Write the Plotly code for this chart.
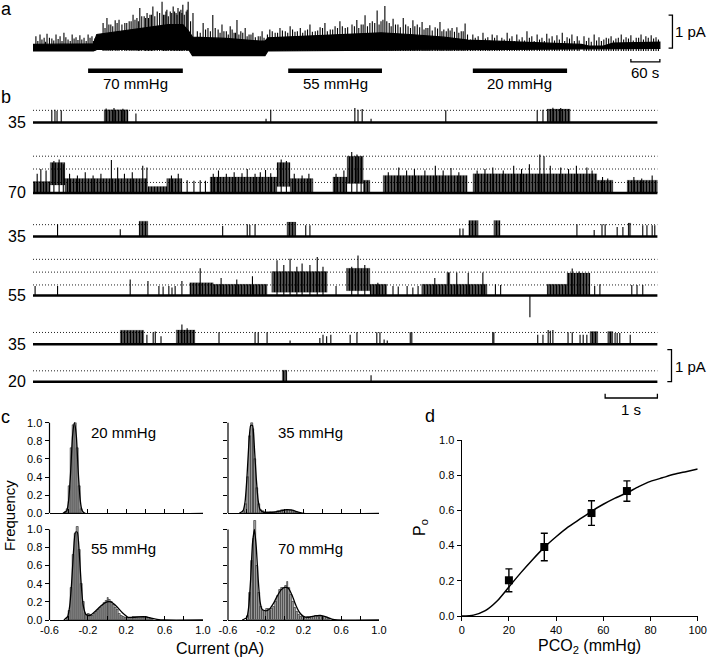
import plotly.graph_objects as go

W, H = 709, 660
FONT = "Arial, 'Liberation Sans', sans-serif"

# ======================= DATA =======================
# ---- panel a: whole recording (time s, current pA) ----
a_t  = [0, 125, 132, 180, 230, 280, 310, 322, 330, 400, 470, 480, 486, 560, 650, 720, 780, 850, 900, 1000, 1100, 1135, 1150, 1180, 1200, 1297]
a_lo = [0, 0, 0.05, 0.05, 0.05, 0.05, 0.05, 0.05, -0.14, -0.14, -0.14, -0.14, 0.0, 0.0, 0.02, 0.03, 0.04, 0.05, 0.05, 0.06, 0.07, 0.07, 0.06, 0.07, 0.07, 0.08]
a_hi = [0.2, 0.22, 0.5, 0.6, 0.7, 0.8, 0.8, 0.6, 0.42, 0.38, 0.3, 0.3, 0.4, 0.45, 0.52, 0.55, 0.5, 0.42, 0.33, 0.28, 0.24, 0.2, 0.15, 0.15, 0.24, 0.27]
a_spike_t = [6, 14.5, 23, 29, 39, 47.6, 56, 64, 72.5, 81, 89, 97, 105.6, 114, 122, 128,
             145, 153, 161, 170, 178, 190, 199, 207, 215, 221, 230, 236, 242, 248, 257, 267, 273, 277, 284, 290, 296, 300, 306, 310, 317, 321, 331,
             352, 362, 372, 383, 391, 400, 408, 416, 422, 430, 439, 447, 455, 466, 474,
             490, 501, 511, 522, 532, 542, 553, 563, 573, 584, 594, 604, 615, 625, 635, 646,
             670, 679, 687, 697, 712, 720, 728, 737, 745, 755, 766, 776, 786, 795, 805, 813, 821, 832, 842, 850, 859, 867, 877, 886, 894,
             910, 921, 931, 941, 950, 960, 970, 981, 991, 1001, 1012, 1022, 1032, 1043, 1053, 1063, 1074, 1084, 1095, 1105, 1115, 1126,
             1140, 1150, 1161, 1171,
             1186, 1196, 1206, 1217, 1227, 1237, 1248, 1258, 1268, 1279, 1289,
             10, 18.5, 26, 34, 43, 52, 60, 68, 77, 85, 93, 101, 110, 118, 125,
             149, 157, 165, 174, 184, 194, 203, 211, 218, 225, 233, 239, 245, 252, 262, 270, 275, 280, 287, 293, 298, 303, 308, 313, 319, 326,
             340, 346, 357, 367, 377, 387, 395, 404, 412, 419, 426, 434, 443, 451, 460, 470, 478,
             485, 495, 506, 516, 527, 537, 547, 558, 568, 578, 589, 599, 609, 620, 630, 640, 651, 660,
             665, 674, 683, 692, 702, 707, 716, 724, 732, 741, 750, 760, 771, 781, 790, 800, 809, 817, 826, 837, 846, 855, 863, 872, 881, 890, 899,
             905, 915, 926, 936, 945, 955, 965, 975, 986, 996, 1006, 1017, 1027, 1037, 1048, 1058, 1068, 1079, 1089, 1100, 1110, 1120, 1130,
             1145, 1155, 1166, 1176, 1181, 1191, 1201, 1211, 1222, 1232, 1242, 1253, 1263, 1273, 1284, 1294]
a_spike_pa = [0.45, 0.5, 0.4, 0.52, 0.38, 0.5, 0.45, 0.55, 0.35, 0.5, 0.42, 0.48, 0.4, 0.5, 0.45, 0.38,
              0.85, 1.0, 0.8, 0.93, 0.95, 0.85, 0.9, 1.1, 1.0, 1.3, 1.05, 1.15, 1.1, 1.35, 1.2, 1.5, 1.1, 1.25, 1.2, 1.35, 1.15, 1.3, 1.25, 1.4, 1.2, 1.5, 1.15,
              0.85, 0.7, 1.09, 0.65, 0.8, 0.6, 0.75, 0.55, 0.94, 0.6, 0.7, 0.5, 0.55, 0.45, 0.6,
              0.65, 0.55, 0.7, 0.6, 0.75, 0.58, 0.7, 0.62, 0.8, 0.6, 0.72, 0.85, 0.65, 0.75, 0.9, 0.7,
              0.94, 0.8, 1.08, 0.85, 1.23, 0.9, 1.36, 0.85, 0.98, 0.8, 1.0, 0.75, 0.93, 0.8, 0.88, 0.7, 0.78, 0.72, 0.88, 0.65, 0.68, 0.7, 0.72, 0.6, 0.83,
              0.5, 0.45, 0.55, 0.42, 0.5, 0.48, 0.4, 0.55, 0.45, 0.5, 0.42, 0.6, 0.45, 0.5, 0.4, 0.52, 0.45, 0.48, 0.55, 0.42, 0.5, 0.45,
              0.45, 0.4, 0.5, 0.42,
              0.4, 0.45, 0.38, 0.5, 0.42, 0.48, 0.4, 0.5, 0.45, 0.48, 0.42,
              0.3, 0.35, 0.28, 0.4, 0.32, 0.36, 0.3, 0.42, 0.3, 0.38, 0.33, 0.35, 0.3, 0.4, 0.3,
              0.7, 0.8, 0.75, 0.85, 0.8, 0.85, 0.9, 0.95, 0.9, 1.05, 1.0, 1.0, 1.1, 1.05, 1.15, 1.1, 1.2, 1.05, 1.15, 1.2, 1.1, 1.2, 1.15, 1.1, 1.25, 0.9,
              0.6, 0.55, 0.65, 0.6, 0.7, 0.55, 0.6, 0.5, 0.65, 0.55, 0.5, 0.55, 0.45, 0.5, 0.42, 0.45, 0.4,
              0.5, 0.6, 0.55, 0.62, 0.55, 0.65, 0.6, 0.55, 0.65, 0.58, 0.62, 0.7, 0.6, 0.65, 0.7, 0.75, 0.72, 0.8,
              0.75, 0.7, 0.8, 0.75, 0.9, 0.85, 0.8, 0.95, 0.9, 0.75, 0.8, 0.72, 0.8, 0.7, 0.75, 0.72, 0.65, 0.7, 0.62, 0.68, 0.6, 0.6, 0.62, 0.58, 0.55, 0.6, 0.5,
              0.35, 0.4, 0.3, 0.38, 0.32, 0.4, 0.3, 0.35, 0.38, 0.3, 0.35, 0.32, 0.4, 0.3, 0.35, 0.3, 0.38, 0.32, 0.35, 0.3, 0.38, 0.3, 0.32,
              0.3, 0.28, 0.32, 0.3, 0.35, 0.38, 0.32, 0.4, 0.35, 0.38, 0.32, 0.4, 0.35, 0.4, 0.38, 0.35]
assert len(a_spike_t) == len(a_spike_pa)
perf_labels = ["70 mmHg", "55 mmHg", "20 mmHg"]
perf_start = [114, 528, 910]
perf_end = [310, 722, 1105]
a_trace_end = 1297

# ---- panel b: six 12-s segments (time s, current pA) ----
b_labels = ["35", "70", "35", "55", "35", "20"]
b_levels = [[0.38], [0.33, 0.75, 1.15], [0.37], [0.33, 0.73, 1.13], [0.37], [0.34]]
b_blocks = [
    [(1.36, 1.82, 0, 0.40), (9.84, 10.28, 0, 0.42)],
    [(0.00, 0.33, 0, 0.36), (0.33, 0.61, 0.25, 0.95), (0.61, 2.18, 0, 0.45), (2.20, 2.56, 0, 0.2),
     (2.56, 2.85, 0, 0.45), (3.39, 4.67, 0, 0.5), (4.67, 4.92, 0.2, 0.95), (4.92, 5.36, 0, 0.45),
     (5.74, 6.01, 0, 0.5), (6.01, 6.32, 0.3, 1.15), (6.32, 6.45, 0, 0.4), (6.70, 8.31, 0, 0.55),
     (8.42, 9.65, 0, 0.6), (9.65, 10.79, 0, 0.6), (10.79, 11.10, 0, 0.4), (11.37, 11.95, 0, 0.4)],
    [(2.03, 2.20, 0, 0.48), (4.86, 5.03, 0, 0.45), (8.34, 8.52, 0, 0.5), (8.82, 8.94, 0, 0.5), (11.39, 11.44, 0, 0.42)],
    [(3.00, 3.45, 0, 0.4), (3.45, 4.48, 0, 0.35), (4.57, 5.63, 0.1, 0.75), (6.00, 6.45, 0.15, 0.85),
     (6.45, 6.77, 0, 0.35), (7.44, 7.92, 0, 0.35), (7.92, 7.98, 0, 0.72), (7.98, 8.69, 0, 0.35),
     (9.84, 10.22, 0, 0.35), (10.22, 10.66, 0, 0.7)],
    [(1.67, 2.12, 0, 0.44), (2.74, 3.10, 0, 0.45), (10.66, 10.81, 0, 0.4), (11.0, 11.1, 0, 0.4)],
    [(4.77, 4.86, 0, 0.36)],
]
b_spikes = [
    [(0.36, 0.38), (0.42, 0.40), (0.46, 0.36), (0.54, 0.38), (1.40, 0.44), (1.55, 0.45), (1.72, 0.43), (1.97, 0.28),
     (4.46, 0.12), (4.55, 0.40), (6.16, 0.45), (6.22, 0.40), (6.30, 0.42), (6.47, 0.12), (7.90, 0.38), (9.65, 0.38),
     (9.76, 0.40), (9.95, 0.46), (10.1, 0.45)],
    [(0.08, 0.6), (0.15, 0.75), (0.25, 0.7), (0.4, 1.0), (0.5, 1.05), (0.58, 0.9), (0.7, 0.6), (0.85, 0.55), (1.0, 0.65),
     (1.15, 0.55), (1.3, 0.6), (1.5, 1.03), (1.62, 0.8), (1.75, 0.6), (1.9, 0.65), (2.1, 0.85), (2.18, 0.8), (2.65, 0.55),
     (2.78, 0.6), (2.95, 0.4), (3.08, 0.38), (3.2, 0.4), (3.3, 0.38), (3.45, 0.6), (3.55, 0.7), (3.7, 0.6), (3.85, 0.65),
     (4.0, 0.62), (4.1, 0.75), (4.25, 0.6), (4.35, 0.65), (4.45, 0.72), (4.55, 0.62), (4.75, 1.05), (4.85, 1.0), (5.0, 0.6),
     (5.15, 0.55), (5.28, 0.6), (5.8, 0.6), (5.95, 0.7), (6.1, 1.28), (6.2, 1.2), (6.28, 1.1), (6.8, 0.65), (7.0, 0.8),
     (7.15, 0.7), (7.3, 0.75), (7.5, 0.7), (7.7, 0.85), (7.85, 0.7), (8.0, 0.78), (8.15, 0.65), (8.5, 0.7), (8.65, 0.75),
     (8.8, 0.8), (9.0, 0.7), (9.2, 0.85), (9.35, 0.75), (9.5, 0.9), (9.7, 1.2), (9.78, 1.15), (9.9, 0.85), (10.1, 0.8),
     (10.25, 0.75), (10.4, 0.85), (10.6, 0.8), (10.7, 0.7), (10.9, 0.5), (11.0, 0.45), (11.5, 0.5), (11.65, 0.45), (11.85, 0.55)],
    [(0.47, 0.38), (1.67, 0.23), (3.63, 0.33), (4.10, 0.38), (4.15, 0.36), (4.25, 0.38), (5.22, 0.35), (5.30, 0.35),
     (8.17, 0.25), (8.23, 0.25), (10.41, 0.38), (10.74, 0.2), (10.89, 0.38), (10.95, 0.38), (11.18, 0.3), (11.29, 0.3),
     (11.67, 0.35), (11.75, 0.35), (11.85, 0.35), (11.9, 0.35)],
    [(0.04, 0.3), (0.47, 0.3), (1.86, 0.5), (2.2, 0.45), (2.41, 0.3), (2.49, 0.28), (2.6, 0.3), (2.66, 0.25), (2.72, 0.3),
     (2.85, 0.45), (3.2, 0.85), (3.6, 0.55), (3.9, 0.5), (4.2, 0.6), (4.67, 1.1), (4.8, 0.95), (4.92, 1.15), (5.05, 0.9),
     (5.15, 1.0), (5.3, 0.95), (5.44, 1.2), (5.55, 0.9), (5.8, 0.3), (6.1, 0.9), (6.22, 1.25), (6.35, 0.95), (6.6, 0.4),
     (6.89, 0.3), (6.99, 0.28), (7.16, 0.3), (7.27, 0.25), (7.37, 0.3), (7.69, 0.55), (8.11, 0.72), (8.33, 0.7), (8.61, 0.72),
     (8.85, 0.35), (8.95, 0.33), (9.51, -0.68), (10.32, 0.84), (10.45, 0.75), (10.75, 0.3), (10.85, 0.35), (11.46, 0.33),
     (11.56, 0.33), (11.67, 0.33)],
    [(2.18, 0.3), (2.3, 0.38), (2.34, 0.4), (2.45, 0.25), (2.85, 0.62), (2.95, 0.5), (3.56, 0.38), (4.25, 0.38), (4.31, 0.38),
     (4.48, 0.38), (4.92, 0.12), (5.49, 0.2), (5.55, 0.3), (5.62, 0.25), (5.7, 0.3), (6.07, 0.3), (6.2, 0.38), (6.58, 0.38),
     (6.64, 0.38), (6.72, 0.15), (6.78, 0.12), (7.22, 0.38), (7.25, 0.38), (8.8, 0.38), (8.82, 0.38), (9.66, 0.3), (9.76, 0.3),
     (9.86, 0.45), (9.9, 0.42), (9.95, 0.45), (10.24, 0.38), (10.32, 0.38), (10.47, 0.3), (10.53, 0.3), (10.6, 0.3),
     (11.14, 0.35), (11.18, 0.35), (11.23, 0.35), (11.43, 0.3)],
    [(6.47, 0.2)],
]
b_trace_end = 11.95

# ---- panel c: amplitude histograms ----
hist_titles = ["20 mmHg", "35 mmHg", "55 mmHg", "70 mmHg"]
h20_x = [-0.43, -0.41, -0.39, -0.37, -0.35, -0.33, -0.31, -0.29, -0.27]
h20_y = [0.01, 0.05, 0.3, 0.72, 0.97, 1.0, 0.72, 0.3, 0.05]
f20_x = [-0.46, -0.42, -0.40, -0.38, -0.36, -0.34, -0.32, -0.30, -0.28, -0.26, -0.23, 1.0]
f20_y = [0, 0.03, 0.15, 0.45, 0.85, 1.0, 0.85, 0.45, 0.15, 0.03, 0, 0]

h35_x = [-0.43, -0.41, -0.39, -0.37, -0.35, -0.33, -0.31, -0.29, -0.27, -0.25, -0.23, -0.21, -0.19, -0.17, -0.15,
         -0.13, -0.11, -0.09, -0.07, -0.05, -0.03, -0.01, 0.01, 0.03, 0.05, 0.07, 0.09, 0.11, 0.13]
h35_y = [0.02, 0.1, 0.4, 0.85, 1.0, 0.93, 0.6, 0.28, 0.1, 0.04, 0.02, 0.01, 0.01, 0.01, 0.01,
         0.01, 0.01, 0.01, 0.02, 0.02, 0.03, 0.04, 0.04, 0.04, 0.03, 0.03, 0.02, 0.01, 0.01]
f35_x = [-0.48, -0.44, -0.42, -0.40, -0.38, -0.36, -0.34, -0.32, -0.30, -0.28, -0.26, -0.22, -0.15, -0.05, 0.02, 0.08, 0.14, 0.2, 1.0]
f35_y = [0, 0.03, 0.12, 0.38, 0.75, 0.97, 0.97, 0.72, 0.38, 0.14, 0.04, 0.01, 0.01, 0.025, 0.04, 0.035, 0.015, 0, 0]

h55_x = [-0.41, -0.39, -0.37, -0.35, -0.33, -0.31, -0.29, -0.27, -0.25, -0.23, -0.21, -0.19, -0.17, -0.15, -0.13,
         -0.11, -0.09, -0.07, -0.05, -0.03, -0.01, 0.01, 0.03, 0.05, 0.07, 0.09, 0.11, 0.13, 0.15, 0.17,
         0.19, 0.21, 0.23, 0.25, 0.27, 0.29, 0.31, 0.33, 0.35, 0.37, 0.39, 0.41, 0.43, 0.45, 0.47]
h55_y = [0.02, 0.1, 0.35, 0.72, 0.95, 1.03, 0.78, 0.4, 0.2, 0.08, 0.06, 0.07, 0.06, 0.05, 0.07,
         0.09, 0.11, 0.13, 0.16, 0.19, 0.21, 0.24, 0.22, 0.2, 0.17, 0.14, 0.11, 0.07, 0.05, 0.03,
         0.02, 0.02, 0.02, 0.02, 0.03, 0.03, 0.03, 0.04, 0.04, 0.04, 0.03, 0.03, 0.02, 0.01, 0.01]
f55_x = [-0.45, -0.41, -0.39, -0.37, -0.35, -0.33, -0.31, -0.29, -0.27, -0.25, -0.22, -0.18, -0.12, -0.06, 0.0, 0.04,
         0.1, 0.16, 0.22, 0.28, 0.34, 0.40, 0.46, 0.52, 0.6, 1.0]
f55_y = [0, 0.04, 0.15, 0.4, 0.75, 0.97, 0.97, 0.75, 0.4, 0.17, 0.06, 0.05, 0.1, 0.16, 0.2, 0.2,
         0.15, 0.08, 0.03, 0.03, 0.035, 0.035, 0.02, 0.008, 0, 0]

h70_x = [-0.39, -0.37, -0.35, -0.33, -0.31, -0.29, -0.27, -0.25, -0.23, -0.21, -0.19, -0.17, -0.15, -0.13, -0.11,
         -0.09, -0.07, -0.05, -0.03, -0.01, 0.01, 0.03, 0.05, 0.07, 0.09, 0.11, 0.13, 0.15, 0.17, 0.19,
         0.21, 0.23, 0.25, 0.27, 0.29, 0.31, 0.33, 0.35, 0.37, 0.39, 0.41, 0.43, 0.45, 0.47]
h70_y = [0.05, 0.3, 0.65, 0.9, 1.1, 0.6, 0.3, 0.15, 0.1, 0.1, 0.12, 0.12, 0.1, 0.12, 0.15,
         0.2, 0.27, 0.33, 0.36, 0.35, 0.38, 0.42, 0.36, 0.28, 0.2, 0.14, 0.09, 0.06, 0.04, 0.03,
         0.02, 0.02, 0.03, 0.03, 0.04, 0.04, 0.05, 0.04, 0.05, 0.04, 0.04, 0.03, 0.02, 0.01]
f70_x = [-0.45, -0.40, -0.38, -0.36, -0.34, -0.32, -0.30, -0.28, -0.26, -0.24, -0.2, -0.16, -0.12, -0.08, -0.04, 0.0,
         0.04, 0.08, 0.12, 0.16, 0.2, 0.26, 0.32, 0.38, 0.44, 0.5, 0.56, 1.0]
f70_y = [0, 0.03, 0.15, 0.45, 0.85, 1.0, 0.8, 0.45, 0.2, 0.12, 0.1, 0.12, 0.18, 0.26, 0.33, 0.36,
         0.35, 0.27, 0.16, 0.08, 0.04, 0.03, 0.045, 0.05, 0.035, 0.01, 0, 0]
for _x, _y in [(h20_x, h20_y), (h35_x, h35_y), (h55_x, h55_y), (h70_x, h70_y), (f20_x, f20_y), (f35_x, f35_y), (f55_x, f55_y), (f70_x, f70_y)]:
    assert len(_x) == len(_y)
hist_major_ticks = [-0.6, -0.2, 0.2, 0.6, 1.0]
hist_major_text = ["-0.6", "-0.2", "0.2", "0.6", "1.0"]
hist_minor_ticks = [-0.4, 0.0, 0.4, 0.8]
freq_ticks = [0.0, 0.2, 0.4, 0.6, 0.8, 1.0]

# ---- panel d: Po vs PCO2 ----
pco2 = [20, 35, 55, 70]
po = [0.203, 0.392, 0.585, 0.71]
po_err = [0.065, 0.078, 0.07, 0.058]
fit_x = [0, 5, 10, 15, 20, 25, 30, 35, 40, 45, 50, 55, 60, 65, 70, 75, 80, 85, 90, 95, 100]
fit_y = [0, 0.005, 0.03, 0.085, 0.165, 0.245, 0.32, 0.39, 0.45, 0.505, 0.55, 0.595, 0.635, 0.67, 0.70, 0.735, 0.765, 0.785, 0.805, 0.82, 0.835]

# ======================= FIGURE =======================
fig = go.Figure()
layout = {}
annotations = []
shapes = []
BLACK = "black"


def axis_pair(n, x0px, x1px, ybot_px, ytop_px, xr, yr, xopts=None, yopts=None):
    s = "" if n == 1 else str(n)
    base = dict(showgrid=False, zeroline=False, showline=False, showticklabels=False,
                ticks="", fixedrange=True)
    xa = dict(base, domain=[x0px / W, x1px / W], range=xr, anchor="y" + s)
    ya = dict(base, domain=[1 - ybot_px / H, 1 - ytop_px / H], range=yr, anchor="x" + s)
    if xopts:
        xa.update(xopts)
    if yopts:
        ya.update(yopts)
    layout["xaxis" + s] = xa
    layout["yaxis" + s] = ya
    return "x" + s, "y" + s


def text(x, y, t, size=15, xref="paper", yref="paper", xanchor="center", yanchor="middle", **kw):
    d = dict(x=x, y=y, text=t, xref=xref, yref=yref, showarrow=False, xanchor=xanchor, yanchor=yanchor,
             font=dict(family=FONT, size=size, color=BLACK), borderpad=0)
    d.update(kw)
    annotations.append(d)


def ptext(px, py, t, size=15, **kw):
    text(px / W, 1 - py / H, t, size=size, **kw)


def spikes_xy(ts, ps, base=0.0):
    xs, ys = [], []
    for t, p in zip(ts, ps):
        xs += [t, t, None]
        ys += [base, p, None]
    return xs, ys


def blocks_xy(blocks):
    xs, ys = [], []
    for t0, t1, lo, hi in blocks:
        xs += [t0, t1, t1, t0, t0, None]
        ys += [lo, lo, hi, hi, lo, None]
    return xs, ys


# ---------- panel a ----------
A_PXS = 29 / 60.0   # px per second
A_PXA = 33.0        # px per pA
A_X0, A_BASE = 33.0, 51.0
xa_r = [0, 1330]
ya_r = [-1.0, 1.5]
xa, ya = axis_pair(1, A_X0, A_X0 + xa_r[1] * A_PXS, A_BASE - ya_r[0] * A_PXA, A_BASE - ya_r[1] * A_PXA, xa_r, ya_r)
fig.add_trace(go.Scatter(x=a_t + a_t[::-1], y=a_hi + a_lo[::-1], fill="toself", fillcolor=BLACK,
                         mode="lines", line=dict(color=BLACK, width=1.2), xaxis=xa, yaxis=ya, hoverinfo="skip"))
sx, sy = spikes_xy(a_spike_t, a_spike_pa)
fig.add_trace(go.Scatter(x=sx, y=sy, mode="lines", line=dict(color=BLACK, width=1.1), xaxis=xa, yaxis=ya, hoverinfo="skip"))
for lab, s0, s1 in zip(perf_labels, perf_start, perf_end):
    fig.add_trace(go.Scatter(x=[s0, s1], y=[-0.6, -0.6], mode="lines", line=dict(color=BLACK, width=4.5),
                             xaxis=xa, yaxis=ya, hoverinfo="skip"))
    text((s0 + s1) / 2, -0.97, lab, size=15, xref=xa, yref=ya)
# scale bars: 60 s and 1 pA
fig.add_trace(go.Scatter(x=[a_trace_end - 60, a_trace_end - 60, a_trace_end, a_trace_end], y=[-0.24, -0.33, -0.33, -0.24],
                         mode="lines", line=dict(color=BLACK, width=1.3), xaxis=xa, yaxis=ya, hoverinfo="skip"))
text(a_trace_end - 30, -0.64, "60 s", size=15, xref=xa, yref=ya)
fig.add_trace(go.Scatter(x=[1315, 1323, 1323, 1315], y=[0.09, 0.09, 1.09, 1.09],
                         mode="lines", line=dict(color=BLACK, width=1.3), xaxis=xa, yaxis=ya, hoverinfo="skip"))
ptext(707, 32, "1 pA", size=15, xanchor="right")
ptext(6, 9, "a", size=18)

# ---------- panel b ----------
B_PXS = 52.25
B_PXA = 32.0
B_X0 = 33.0
xb_r = [0, 12.4]
row_base_px = [122.5, 193.0, 236.5, 295.5, 344.3, 381.7]
row_yr = [[-0.3, 0.7], [-0.3, 1.4], [-0.3, 0.7], [-0.8, 1.4], [-0.3, 0.7], [-1.0, 1.1]]
PATTERN = dict(shape="|", size=3, solidity=0.8, fgcolor=BLACK, bgcolor="rgba(255,255,255,0)")
for i in range(6):
    n = 2 + i
    bpx = row_base_px[i]
    yr = row_yr[i]
    xr_, yr_ = axis_pair(n, B_X0, B_X0 + xb_r[1] * B_PXS, bpx - yr[0] * B_PXA, bpx - yr[1] * B_PXA, xb_r, yr)
    for lv in b_levels[i]:
        fig.add_trace(go.Scatter(x=[0, b_trace_end], y=[lv, lv], mode="lines",
                                 line=dict(color="#222", width=1, dash="1px,2px"), xaxis=xr_, yaxis=yr_, hoverinfo="skip"))
    bx, by = blocks_xy(b_blocks[i])
    if bx:
        fig.add_trace(go.Scatter(x=bx, y=by, mode="lines", fill="toself", fillcolor="rgba(255,255,255,0)",
                                 fillpattern=PATTERN, line=dict(color="rgba(0,0,0,0.3)", width=0.6),
                                 xaxis=xr_, yaxis=yr_, hoverinfo="skip"))
    ts = [s[0] for s in b_spikes[i]]
    ps = [s[1] for s in b_spikes[i]]
    sx, sy = spikes_xy(ts, ps)
    fig.add_trace(go.Scatter(x=sx, y=sy, mode="lines", line=dict(color=BLACK, width=1.1), xaxis=xr_, yaxis=yr_, hoverinfo="skip"))
    fig.add_trace(go.Scatter(x=[0, b_trace_end], y=[0, 0], mode="lines", line=dict(color=BLACK, width=2.4),
                             xaxis=xr_, yaxis=yr_, hoverinfo="skip"))
    text(17 / W, 0, b_labels[i], size=16, xref="paper", yref=yr_)
    if i == 5:
        fig.add_trace(go.Scatter(x=[b_trace_end - 1, b_trace_end - 1, b_trace_end, b_trace_end], y=[-0.38, -0.51, -0.51, -0.38],
                                 mode="lines", line=dict(color=BLACK, width=1.3), xaxis=xr_, yaxis=yr_, hoverinfo="skip"))
        text(b_trace_end - 0.5, -0.86, "1 s", size=15, xref=xr_, yref=yr_)
        fig.add_trace(go.Scatter(x=[12.14, 12.22, 12.22, 12.14], y=[0, 0, 1, 1],
                                 mode="lines", line=dict(color=BLACK, width=1.3), xaxis=xr_, yaxis=yr_, hoverinfo="skip"))
        ptext(707, 366.7, "1 pA", size=15, xanchor="right")
ptext(6, 97, "b", size=18)

# ---------- panel c ----------
hist_x = [h20_x, h35_x, h55_x, h70_x]
hist_y = [h20_y, h35_y, h55_y, h70_y]
fits_x = [f20_x, f35_x, f55_x, f70_x]
fits_y = [f20_y, f35_y, f55_y, f70_y]
c_x_px = [(49.5, 203.0), (228.0, 379.0), (49.5, 203.0), (228.0, 379.0)]
c_y0_px = [513.3, 513.3, 620.0, 620.0]
C_PXF = 90.6
c_lab_px = [(123, 433), (310, 433), (123, 548), (310, 548)]
for k in range(4):
    n = 8 + k
    x0, x1 = c_x_px[k]
    y0 = c_y0_px[k]
    yr = [0, 1.15]
    bottom = k >= 2
    xo = dict(showline=True, linecolor=BLACK, linewidth=1.2, ticks="inside", ticklen=4, tickwidth=1.2,
              tickcolor=BLACK, tickvals=hist_major_ticks, ticktext=hist_major_text, showticklabels=bottom,
              tickfont=dict(family=FONT, size=11, color=BLACK),
              minor=dict(tickvals=hist_minor_ticks, ticks="inside", ticklen=4, tickwidth=1.2, tickcolor=BLACK, showgrid=False))
    yo = dict(ticks="outside", ticklen=4, tickwidth=1.2, tickcolor=BLACK, tickvals=freq_ticks,
              ticktext=["%.1f" % v for v in freq_ticks], showticklabels=(k % 2 == 0),
              tickfont=dict(family=FONT, size=11, color=BLACK))
    xr_, yr_ = axis_pair(n, x0, x1, y0, y0 - yr[1] * C_PXF, [-0.6, 1.0], yr, xo, yo)
    fig.add_trace(go.Bar(x=hist_x[k], y=hist_y[k], width=0.02, marker=dict(color="#a6a6a6", line=dict(color="#222", width=0.6)),
                         xaxis=xr_, yaxis=yr_, hoverinfo="skip"))
    fig.add_trace(go.Scatter(x=fits_x[k], y=fits_y[k], mode="lines", line=dict(color=BLACK, width=1.3, shape="spline", smoothing=0.5),
                             xaxis=xr_, yaxis=yr_, hoverinfo="skip"))
    shapes.append(dict(type="line", xref=xr_ + " domain", yref=yr_, x0=0, x1=0, y0=0, y1=1.0,
                       line=dict(color=BLACK, width=1.2)))
    ptext(c_lab_px[k][0], c_lab_px[k][1], hist_titles[k], size=15)
layout["barmode"] = "overlay"
layout["bargap"] = 0
ptext(9, 516, "Frequency", size=15, textangle=-90)
ptext(220, 648, "Current (pA)", size=16)
ptext(5, 417, "c", size=18)

# ---------- panel d ----------
xo = dict(showline=True, linecolor=BLACK, linewidth=1.3, ticks="outside", ticklen=4, tickwidth=1.3, tickcolor=BLACK,
          tickvals=[0, 20, 40, 60, 80, 100], showticklabels=True, tickfont=dict(family=FONT, size=11, color=BLACK))
yo = dict(showline=True, linecolor=BLACK, linewidth=1.3, ticks="outside", ticklen=4, tickwidth=1.3, tickcolor=BLACK,
          tickvals=[0, 0.2, 0.4, 0.6, 0.8, 1.0], ticktext=["0.0", "0.2", "0.4", "0.6", "0.8", "1.0"], showticklabels=True,
          tickfont=dict(family=FONT, size=11, color=BLACK))
xd, yd = axis_pair(12, 461.7, 697.7, 616.0, 440.0, [0, 100], [0, 1.0], xo, yo)
fig.add_trace(go.Scatter(x=fit_x, y=fit_y, mode="lines", line=dict(color=BLACK, width=1.5, shape="spline", smoothing=0.6),
                         xaxis=xd, yaxis=yd, hoverinfo="skip"))
fig.add_trace(go.Scatter(x=pco2, y=po, mode="markers",
                         marker=dict(symbol="square", size=8, color=BLACK),
                         error_y=dict(type="data", array=po_err, color=BLACK, thickness=1.4, width=3.5),
                         xaxis=xd, yaxis=yd, hoverinfo="skip", cliponaxis=False))
ptext(589, 646, "PCO<sub>2</sub> (mmHg)", size=16)
ptext(420, 528, "P<sub>o</sub>", size=16, textangle=-90)
ptext(430, 416, "d", size=18)

fig.update_layout(**layout)
fig.update_layout(width=W, height=H, margin=dict(l=0, r=0, t=0, b=0), autosize=False,
                  paper_bgcolor="white", plot_bgcolor="rgba(0,0,0,0)", showlegend=False,
                  template="none", annotations=annotations, shapes=shapes,
                  font=dict(family=FONT, color=BLACK))
fig.write_html("out.html", config={"displayModeBar": False},
               post_script="document.body.style.margin='0';document.body.style.padding='0';document.body.style.overflow='hidden';")
